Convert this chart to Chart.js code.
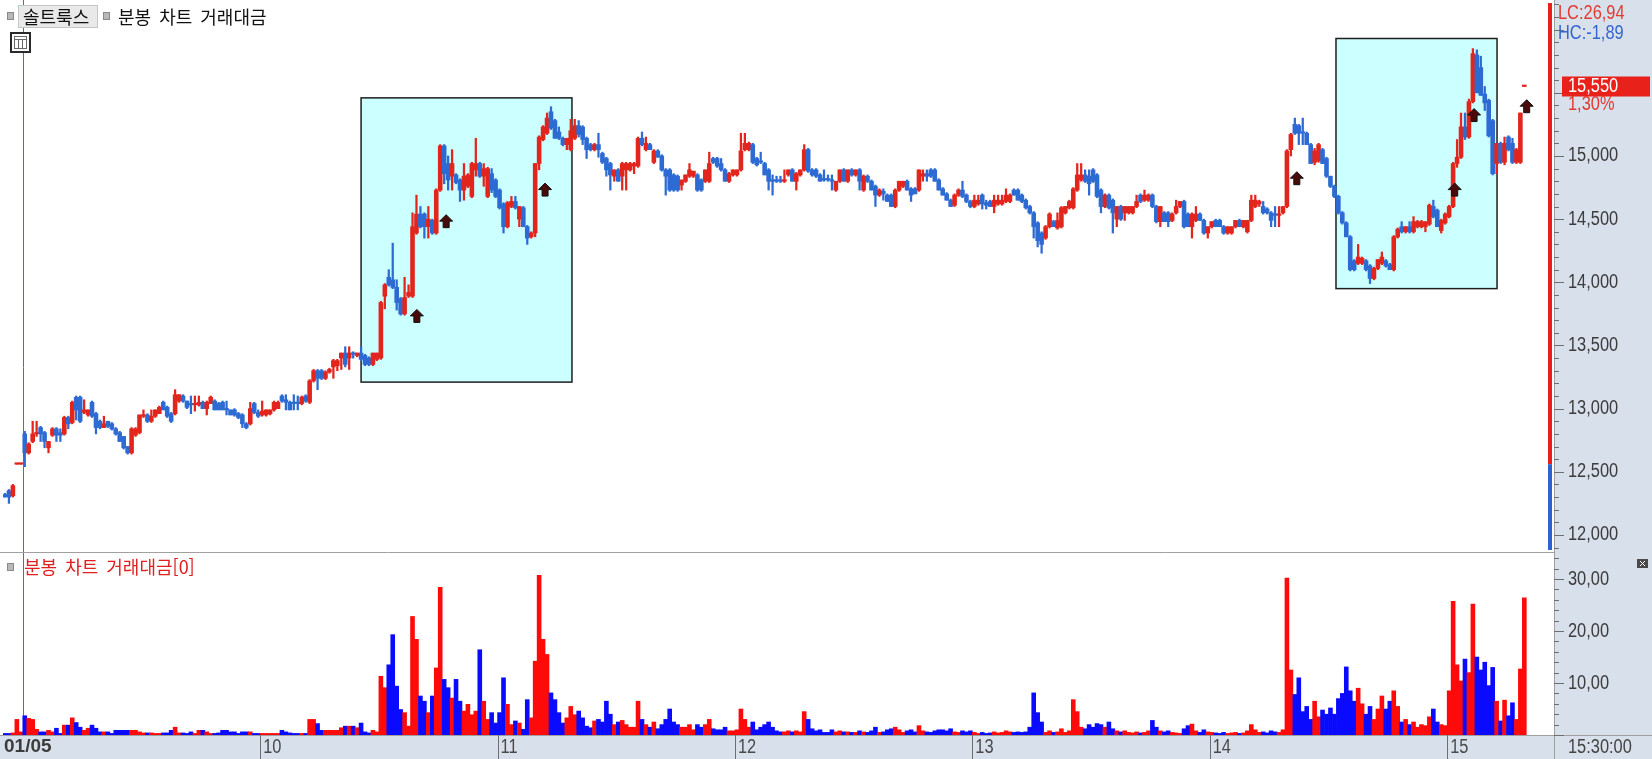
<!DOCTYPE html>
<html lang="ko">
<head>
<meta charset="utf-8">
<title>솔트룩스 분봉 차트 거래대금</title>
<script src="https://cdn.jsdelivr.net/npm/chart.js@4.4.1/dist/chart.umd.min.js"></script>
<style>
  html, body { margin: 0; padding: 0; background: #ffffff; }
  canvas { display: block; }
</style>
</head>
<body>
<canvas id="chart" width="1652" height="759"></canvas>
<script>
// ---- texts ----
const stockName = '솔트룩스';
const chartTitle = '분봉 차트 거래대금';
const volumeTitle = '분봉 차트 거래대금[0]';
const lcText = 'LC:26,94';
const hcText = 'HC:-1,89';
const lastChangeText = '1,30%';
const timeText = '15:30:00';

// ---- x axis: one slot per minute candle ----
const slotCount = 392;
const openSlot = 5;                       // 09:00 (red line)
const tickSlots = [0, 65, 125, 185, 245, 305, 365];
const tickLabels = ['01/05', '10', '11', '12', '13', '14', '15'];

// ---- y axes ----
const priceMin = 11865;
const priceMax = 16211;
const priceTicks = [12000, 12500, 13000, 13500, 14000, 14500, 15000];
const volumeMax = 35.2;
const volumeTicks = [10, 20, 30];
const lastPrice = 15550;
const prevClose = 12560;

// ---- candles [open, high, low, close, 거래대금] ----
const preMarket = [
  [12320,12330,12300,12300,0.3], [12350,12360,12250,12300,0.3], [12310,12400,12300,12390,0.4],
  [12560,12560,12560,12560,3.0], [12560,12560,12560,12560,0.6]
];
const min09 = [
  [12800,12820,12540,12650,3.7], [12650,12730,12640,12720,3.2], [12740,12900,12730,12800,3.0], [12800,12900,12780,12810,1.1],
  [12850,12860,12740,12800,0.6], [12810,12820,12690,12740,0.6], [12690,12740,12650,12740,0.9], [12790,12850,12780,12840,0.6],
  [12840,12850,12740,12790,1.3], [12810,12840,12740,12790,0.3], [12800,12940,12790,12930,1.9], [12930,12940,12840,12880,1.9],
  [12890,13060,12880,13050,3.3], [13090,13100,12910,12990,2.4], [13090,13100,12890,12900,1.5], [12970,13070,12960,12990,0.9],
  [12950,12990,12940,12990,1.3], [13050,13060,12930,12940,1.9], [12960,12970,12800,12850,1.3], [12900,12910,12840,12850,0.6],
  [12850,12940,12850,12880,0.6], [12900,12900,12850,12860,0.6], [12880,12890,12830,12840,0.3], [12840,12850,12790,12800,0.9],
  [12810,12820,12740,12740,0.9], [12780,12780,12680,12690,0.9], [12700,12700,12640,12650,0.9], [12650,12850,12640,12840,0.9],
  [12790,12850,12780,12840,0.9], [12810,12950,12800,12950,0.6], [12940,12990,12930,12950,0.4], [12950,12960,12890,12900,0.4],
  [12900,12990,12890,12940,0.4], [12940,12990,12930,12990,0.3], [12960,13020,12960,13010,0.3], [13050,13060,12990,12990,0.4],
  [13010,13020,12930,12940,0.4], [12960,12970,12890,12900,0.9], [12960,13150,12950,13110,1.5], [13060,13110,13050,13110,0.4],
  [13100,13110,13050,13060,0.4], [13060,13060,13000,13010,0.3], [13040,13100,12960,13030,0.6], [13030,13100,12980,13040,0.3],
  [13030,13100,13020,13050,0.9], [13050,13060,13000,13000,0.9], [13000,13060,12950,13050,0.6], [13040,13100,13040,13090,0.3],
  [13060,13070,12990,12990,0.3], [13040,13050,12990,12990,0.4], [13050,13060,12990,12990,0.9], [13000,13060,12950,12990,0.9],
  [12990,12990,12950,12950,0.6], [12990,13000,12940,12950,0.6], [12960,12970,12920,12930,0.3], [12950,12960,12850,12880,0.6],
  [12880,12890,12840,12850,0.6], [12880,13050,12870,13000,0.6], [13040,13050,12960,12970,0.3], [12970,12990,12930,12940,0.3]
];
const min10 = [
  [12950,13060,12940,12980,0.3], [12950,12990,12940,12990,0.3], [12960,12990,12950,12990,0.3], [12990,13060,12980,13050,0.3],
  [13000,13060,13000,13050,0.3], [13100,13110,13050,13060,0.9], [13070,13110,12990,13050,0.6], [13050,13060,12990,12990,0.4],
  [13050,13110,12990,13040,0.3], [13050,13100,12990,13040,0.3], [13040,13100,13030,13090,0.3], [13100,13110,13050,13060,0.3],
  [13050,13230,13040,13220,3.0], [13220,13310,13210,13300,3.0], [13300,13310,13150,13240,2.2], [13300,13310,13230,13240,0.9],
  [13240,13300,13230,13290,0.9], [13290,13320,13280,13310,0.9], [13330,13390,13240,13380,0.9], [13340,13390,13300,13380,0.9],
  [13400,13440,13310,13440,1.4], [13440,13490,13330,13350,1.7], [13400,13490,13310,13440,1.7], [13440,13450,13400,13430,1.7],
  [13420,13440,13410,13440,1.4], [13440,13490,13380,13390,2.3], [13420,13430,13340,13350,0.6], [13400,13410,13340,13350,0.4],
  [13350,13440,13340,13440,0.9], [13390,13440,13380,13440,0.6], [13400,13850,13390,13840,11.3], [13890,13990,13790,13980,9.1],
  [14040,14100,13970,13980,13.5], [14020,14310,13950,13960,19.3], [13960,14020,13780,13840,9.4], [13870,13880,13740,13750,4.9],
  [13750,14040,13740,13880,4.3], [13890,13980,13880,13920,1.7], [13890,14550,13880,14440,22.8], [14390,14690,14380,14540,18.4],
  [14540,14600,14430,14440,7.5], [14540,14550,14350,14440,6.5], [14440,14600,14350,14500,4.3], [14490,14500,14380,14390,7.5],
  [14390,14740,14380,14730,12.9], [14730,15090,14720,15080,28.4], [15080,15090,14780,14860,10.7], [14940,15000,14730,14810,9.1],
  [14840,15050,14730,14940,7.1], [14850,14860,14780,14790,10.7], [14810,14820,14640,14730,6.5], [14730,14940,14650,14840,4.6],
  [14760,14860,14750,14850,5.9], [14680,14950,14670,14940,3.9], [14890,15140,14840,14940,4.6], [14940,14950,14830,14840,16.4],
  [14840,14940,14760,14900,6.5], [14680,14910,14670,14900,3.0], [14860,14900,14710,14730,4.3], [14810,14820,14670,14680,2.3]
];
const min11 = [
  [14730,14740,14580,14590,4.3], [14620,14630,14390,14440,11.0], [14440,14640,14430,14630,5.9], [14600,14680,14590,14640,2.0],
  [14640,14680,14580,14590,2.7], [14500,14600,14440,14600,2.3], [14590,14600,14440,14440,1.1], [14440,14450,14300,14350,6.8],
  [14360,14400,14350,14390,3.3], [14390,14940,14360,14940,14.2], [14940,15160,14890,15150,30.7], [15130,15240,15120,15230,18.4],
  [15180,15340,15170,15300,15.5], [15350,15390,15210,15220,8.1], [15280,15290,15140,15140,6.8], [15190,15230,15130,15140,4.3],
  [15140,15150,15080,15090,2.3], [15090,15140,15050,15140,3.3], [15050,15290,15040,15200,5.5], [15140,15290,15130,15240,3.9],
  [15240,15280,15150,15170,4.6], [15230,15240,15090,15130,3.3], [15140,15150,14980,15050,1.7], [15090,15100,15040,15050,1.4],
  [15050,15100,15040,15090,2.7], [15090,15180,14990,15050,3.0], [15020,15030,14940,14950,2.5], [14980,14990,14840,14890,6.5],
  [14940,14950,14730,14850,4.0], [14840,14890,14800,14890,2.0], [14890,14900,14800,14800,2.5], [14840,14950,14730,14940,2.8],
  [14890,14950,14730,14940,2.0], [14890,14950,14880,14940,1.5], [14920,14950,14860,14940,1.5], [14920,15150,14910,15140,6.5],
  [15140,15190,15080,15090,3.0], [15050,15150,15040,15100,2.0], [15090,15100,15050,15050,1.5], [14950,15050,14940,15040,2.5],
  [15040,15050,14990,14990,1.2], [15000,15010,14880,14890,2.0], [14890,14900,14690,14840,3.0], [14890,14900,14720,14730,5.0],
  [14850,14860,14720,14730,2.5], [14840,14850,14720,14730,2.0], [14770,14810,14730,14810,1.5], [14800,14850,14790,14850,1.5],
  [14840,14940,14830,14890,2.0], [14840,14880,14830,14880,1.0], [14850,14860,14720,14730,2.0], [14810,14820,14720,14730,1.5],
  [14800,14890,14790,14890,2.0], [14800,15030,14790,14940,3.0], [14980,14990,14940,14950,1.2], [14980,14990,14910,14920,1.0],
  [14940,14980,14880,14890,1.0], [14890,14900,14800,14800,1.5], [14800,14870,14790,14860,0.8], [14850,14890,14840,14890,0.8]
];
const min12 = [
  [14850,14890,14840,14890,1.0], [14890,15180,14880,15040,5.0], [15050,15180,15040,15100,3.0], [15050,15110,15040,15100,1.5],
  [15090,15100,14940,14950,2.5], [14980,14990,14920,14930,1.0], [14960,15030,14940,14950,1.5], [14940,14950,14850,14850,2.0],
  [14890,14900,14730,14800,2.5], [14810,14850,14690,14800,1.5], [14810,14840,14790,14800,0.8], [14810,14840,14790,14800,0.6],
  [14800,14890,14790,14810,0.6], [14850,14890,14840,14890,0.8], [14890,14900,14800,14800,0.6], [14800,14870,14730,14860,0.8],
  [14850,14890,14840,14890,0.6], [14890,15090,14880,15050,4.5], [15050,15060,14870,14880,3.0], [14890,14900,14840,14850,1.2],
  [14890,14900,14830,14840,0.8], [14850,14860,14800,14800,1.0], [14820,14890,14800,14810,0.5], [14820,14850,14800,14810,0.5],
  [14810,14850,14730,14800,1.0], [14730,14800,14720,14800,0.6], [14800,14890,14790,14890,0.8], [14890,14900,14800,14800,0.6],
  [14800,14890,14790,14890,0.6], [14890,14900,14840,14850,0.5], [14850,14890,14840,14890,0.5], [14890,14900,14730,14800,0.8],
  [14730,14850,14720,14840,0.6], [14840,14850,14790,14800,0.5], [14800,14810,14730,14730,0.8], [14760,14770,14600,14690,1.5],
  [14690,14740,14680,14730,0.5], [14720,14740,14650,14700,0.6], [14690,14700,14640,14640,1.0], [14690,14700,14600,14600,1.2],
  [14600,14740,14590,14730,1.5], [14730,14800,14720,14800,1.0], [14760,14800,14750,14800,0.5], [14800,14810,14730,14730,0.8],
  [14740,14750,14640,14690,1.0], [14740,14750,14700,14700,0.6], [14730,14890,14720,14890,1.8], [14840,14890,14800,14860,0.8],
  [14860,14890,14800,14840,0.6], [14890,14900,14830,14840,0.5], [14890,14900,14800,14800,0.8], [14810,14820,14730,14730,1.0],
  [14740,14750,14690,14690,1.0], [14700,14710,14650,14650,0.8], [14650,14660,14600,14600,1.2], [14610,14700,14600,14690,0.6],
  [14690,14740,14680,14730,0.5], [14730,14800,14670,14680,0.8], [14690,14700,14630,14640,0.6], [14640,14650,14590,14600,0.8]
];
const min13 = [
  [14600,14690,14590,14650,0.5], [14620,14690,14610,14650,0.3], [14690,14700,14580,14620,0.5], [14630,14650,14580,14610,0.3],
  [14640,14650,14600,14600,0.4], [14600,14690,14550,14650,0.6], [14620,14690,14610,14650,0.4], [14620,14690,14610,14650,0.5],
  [14640,14740,14630,14690,0.8], [14640,14700,14630,14690,0.6], [14730,14740,14690,14690,0.5], [14730,14740,14650,14650,0.6],
  [14690,14700,14630,14640,0.5], [14650,14660,14580,14590,0.6], [14600,14610,14540,14550,1.5], [14550,14560,14350,14440,8.1],
  [14470,14480,14280,14330,4.3], [14390,14400,14230,14300,2.5], [14350,14450,14340,14440,0.5], [14440,14550,14430,14540,0.8],
  [14480,14490,14440,14440,0.5], [14430,14550,14420,14490,0.6], [14440,14600,14430,14590,1.2], [14550,14600,14540,14600,0.5],
  [14590,14650,14580,14640,0.8], [14590,14750,14580,14740,6.8], [14730,14940,14720,14850,4.5], [14810,14940,14800,14850,1.5],
  [14850,14890,14790,14800,1.2], [14840,14890,14690,14780,2.0], [14890,14900,14790,14800,1.5], [14850,14860,14670,14680,2.2],
  [14730,14740,14550,14600,2.0], [14600,14700,14590,14690,1.5], [14690,14700,14580,14590,2.5], [14650,14660,14390,14550,1.2],
  [14500,14600,14440,14600,0.8], [14600,14610,14490,14500,0.6], [14550,14600,14490,14600,0.8], [14550,14600,14540,14600,0.5],
  [14550,14600,14540,14600,0.4], [14600,14690,14590,14640,0.6], [14690,14700,14630,14640,0.4], [14650,14730,14640,14690,0.5],
  [14650,14700,14640,14690,0.8], [14690,14700,14590,14600,2.8], [14600,14610,14470,14480,1.5], [14480,14600,14440,14600,0.8],
  [14550,14560,14480,14480,0.6], [14550,14560,14440,14480,0.8], [14490,14550,14480,14540,0.5], [14550,14650,14540,14600,0.4],
  [14600,14640,14590,14640,0.3], [14640,14650,14430,14440,1.2], [14540,14550,14440,14440,1.8], [14440,14550,14350,14540,2.1],
  [14490,14600,14480,14540,0.8], [14540,14550,14490,14490,0.5], [14490,14500,14380,14390,1.0], [14390,14440,14350,14440,0.6]
];
const min14 = [
  [14440,14480,14430,14480,0.5], [14490,14500,14440,14440,0.4], [14490,14500,14440,14440,0.3], [14440,14450,14380,14390,0.5],
  [14390,14440,14380,14440,0.3], [14390,14440,14380,14440,0.4], [14440,14490,14430,14490,0.5], [14490,14500,14440,14440,0.3],
  [14440,14490,14430,14490,0.4], [14400,14490,14390,14490,0.8], [14490,14690,14480,14650,2.0], [14600,14690,14590,14650,1.0],
  [14620,14650,14600,14640,0.5], [14600,14640,14540,14550,0.6], [14580,14590,14540,14550,0.4], [14550,14560,14440,14490,0.8],
  [14540,14600,14440,14530,0.6], [14530,14600,14440,14540,0.5], [14550,14600,14540,14600,1.0], [14600,15050,14590,15040,30.2],
  [15050,15180,15000,15170,12.5], [15250,15300,15170,15180,7.8], [15240,15250,15090,15180,11.0], [15190,15300,15090,15180,4.5],
  [15180,15190,15090,15090,5.5], [15090,15100,14940,14940,3.0], [14950,15060,14930,15040,6.5], [14960,15100,14950,15090,3.5],
  [15050,15060,14940,14940,4.8], [14980,14990,14830,14840,4.0], [14840,14840,14750,14760,5.2], [14760,14770,14670,14680,4.0],
  [14680,14690,14540,14550,7.0], [14550,14560,14460,14470,8.0], [14470,14480,14360,14360,13.1], [14360,14370,14090,14100,8.5],
  [14170,14180,14090,14100,6.5], [14150,14300,14140,14200,9.0], [14150,14200,14140,14190,6.0], [14170,14180,14090,14100,4.0],
  [14130,14140,13990,14030,5.5], [14030,14120,14020,14110,3.0], [14110,14180,14100,14180,5.0], [14150,14240,14140,14200,7.5],
  [14170,14180,14120,14130,5.0], [14140,14150,14100,14100,6.5], [14100,14370,14090,14360,8.5], [14360,14430,14350,14420,5.5],
  [14440,14480,14390,14400,2.5], [14400,14440,14390,14440,3.0], [14440,14480,14390,14400,2.0], [14400,14520,14390,14480,2.5],
  [14440,14490,14430,14480,1.5], [14440,14490,14430,14480,2.0], [14440,14480,14400,14480,1.8], [14460,14620,14450,14610,3.5],
  [14600,14650,14510,14520,5.0], [14570,14580,14440,14440,2.5], [14410,14500,14390,14490,2.0], [14470,14550,14460,14540,1.8]
];
const min15 = [
  [14520,14610,14510,14600,8.5], [14600,14950,14590,14940,25.7], [14940,15130,14910,14990,13.5], [14990,15340,14980,15230,10.4],
  [15230,15340,15130,15150,14.6], [15150,15450,15140,15430,12.0], [15430,15850,15420,15810,25.2], [15800,15840,15500,15500,15.0],
  [15700,15790,15480,15480,12.5], [15490,15550,15360,15420,14.0], [15440,15450,15150,15160,9.5], [15280,15290,14850,14860,13.0],
  [14940,15100,14860,15100,6.5], [15100,15110,14940,14950,2.7], [14950,15150,14930,15100,6.7], [15150,15160,15040,15050,3.7],
  [15100,15140,14940,14950,6.2], [14950,15060,14940,15050,3.0], [14950,15340,14940,15340,12.7], [15550,15550,15550,15550,26.4]
];

// ---- drawn boxes [left slot edge, right slot edge, top price, bottom price] ----
const boxes = [
  [90.5, 143.8, 15460, 13210],
  [336.9, 377.6, 15930, 13950]
];
// ---- signal arrows [slot, price] ----
const signals = [
  [104.1, 13730], [111.5, 14480], [136.5, 14730], [326.5, 14820],
  [366.4, 14730], [371.3, 15320], [384.6, 15390]
];

// colours and fonts
const candleUp = '#e2261d';
const candleDown = '#2d6bd3';
const volUp = '#ff0a0a';
const volDown = '#0a0aff';
const axisBg = '#d8e0ec';
const numFont = "20px 'Liberation Sans', Arial, sans-serif";
const krFont = "18px 'Noto Sans CJK KR', sans-serif";

const candles = [].concat(preMarket, min09, min10, min11, min12, min13, min14, min15);
const slotLabels = [];
for (let i = 0; i < slotCount; i++) {
  const k = tickSlots.indexOf(i);
  slotLabels.push(k >= 0 ? tickLabels[k] : '');
}
const isUp = c => c[3] >= c[0];
const wickData = candles.map(c => [c[2], c[1]]);
const bodyData = candles.map(c => [c[0], c[3]]);
const volumeData = candles.map(c => c[4]);
const candleColors = candles.map(c => isUp(c) ? candleUp : candleDown);
const volumeColors = candles.map(c => isUp(c) ? volUp : volDown);

function fmtPrice(v) {
  return String(v).replace(/\B(?=(\d{3})+(?!\d))/g, ',');
}

// pixel x for a (possibly fractional) slot centre
function slotX(chart, s) {
  const x = chart.scales.x;
  const p0 = x.getPixelForValue(0);
  const w = x.getPixelForValue(1) - p0;
  return p0 + s * w;
}

function marker(ctx, x, y) {
  ctx.fillStyle = '#b8b8b8';
  ctx.fillRect(x, y, 7, 8);
  ctx.strokeStyle = '#8a8a8a';
  ctx.lineWidth = 1;
  ctx.strokeRect(x + 0.5, y + 0.5, 6, 7);
}

// narrow number text like the HTS font
function narrowText(ctx, text, x, y, color) {
  ctx.save();
  ctx.translate(x, y);
  ctx.scale(0.82, 1);
  ctx.font = numFont;
  ctx.textBaseline = 'middle';
  ctx.textAlign = 'left';
  ctx.fillStyle = color;
  ctx.fillText(text, 0, 0);
  ctx.restore();
}

const decorPlugin = {
  id: 'decor',
  beforeDraw(chart) {
    const ctx = chart.ctx, a = chart.chartArea;
    ctx.save();
    ctx.fillStyle = axisBg;
    ctx.fillRect(0, 0, chart.width, chart.height);
    ctx.fillStyle = '#ffffff';
    ctx.fillRect(0, 0, a.right, a.bottom);
    ctx.restore();
  },
  beforeDatasetsDraw(chart) {
    const ctx = chart.ctx, a = chart.chartArea, y = chart.scales.y;
    ctx.save();
    // cyan range boxes
    boxes.forEach(b => {
      const x1 = slotX(chart, b[0] - 0.5), x2 = slotX(chart, b[1] - 0.5);
      const y1 = y.getPixelForValue(b[2]), y2 = y.getPixelForValue(b[3]);
      ctx.fillStyle = '#ccffff';
      ctx.fillRect(x1, y1, x2 - x1, y2 - y1);
      ctx.strokeStyle = '#1e1e1e';
      ctx.lineWidth = 1.5;
      ctx.strokeRect(x1, y1, x2 - x1, y2 - y1);
    });
    // 09:00 line
    const xo = Math.round(slotX(chart, openSlot - 0.5)) + 0.5;
    ctx.strokeStyle = '#e03a3a';
    ctx.lineWidth = 1;
    ctx.beginPath();
    ctx.moveTo(xo, 0);
    ctx.lineTo(xo, a.bottom);
    ctx.stroke();
    ctx.restore();
  },
  afterDatasetsDraw(chart) {
    const ctx = chart.ctx, a = chart.chartArea, y = chart.scales.y, yv = chart.scales.yv;
    ctx.save();
    // signal arrows
    signals.forEach(s => {
      const cx = slotX(chart, s[0]), cy = y.getPixelForValue(s[1]);
      ctx.beginPath();
      ctx.moveTo(cx, cy - 7);
      ctx.lineTo(cx + 6.5, cy - 0.5);
      ctx.lineTo(cx + 3, cy - 0.5);
      ctx.lineTo(cx + 3, cy + 6);
      ctx.lineTo(cx - 3, cy + 6);
      ctx.lineTo(cx - 3, cy - 0.5);
      ctx.lineTo(cx - 6.5, cy - 0.5);
      ctx.closePath();
      ctx.fillStyle = '#4a0a0a';
      ctx.fill();
      ctx.strokeStyle = '#111111';
      ctx.lineWidth = 1;
      ctx.stroke();
    });
    // red / blue bar on the right edge of the price panel
    const yMid = y.getPixelForValue(prevClose);
    ctx.fillStyle = '#e8201c';
    ctx.fillRect(a.right - 6, y.top, 4, yMid - y.top);
    ctx.fillStyle = '#2a62d0';
    ctx.fillRect(a.right - 6, yMid, 4, y.bottom - yMid - 2);
    // panel separator, x axis line, y axis line
    ctx.strokeStyle = '#a0a0a0';
    ctx.lineWidth = 1;
    ctx.beginPath();
    ctx.moveTo(0, Math.round(yv.top) + 0.5);
    ctx.lineTo(a.right, Math.round(yv.top) + 0.5);
    ctx.moveTo(0, Math.round(a.bottom) + 0.5);
    ctx.lineTo(chart.width, Math.round(a.bottom) + 0.5);
    ctx.moveTo(Math.round(a.right) + 0.5, 0);
    ctx.lineTo(Math.round(a.right) + 0.5, chart.height);
    ctx.stroke();
    // titles
    ctx.textBaseline = 'middle';
    ctx.font = krFont;
    ctx.wordSpacing = '4px';
    marker(ctx, 7, 12);
    ctx.fillStyle = '#e9e9e9';
    ctx.fillRect(18, 5, 80, 23);
    ctx.strokeStyle = '#c6c6c6';
    ctx.strokeRect(18.5, 5.5, 79, 22);
    ctx.fillStyle = '#111111';
    ctx.fillText(stockName, 23, 17);
    marker(ctx, 103, 12);
    ctx.fillStyle = '#111111';
    ctx.fillText(chartTitle, 118, 17);
    // calendar icon
    ctx.fillStyle = '#ffffff';
    ctx.fillRect(11, 33, 19, 19);
    ctx.strokeStyle = '#2a2a2a';
    ctx.lineWidth = 2;
    ctx.strokeRect(11, 33, 19, 19);
    ctx.lineWidth = 1;
    ctx.strokeStyle = '#6a6a6a';
    ctx.strokeRect(14.5, 36.5, 12, 12);
    ctx.beginPath();
    ctx.moveTo(14.5, 39.5); ctx.lineTo(26.5, 39.5);
    ctx.moveTo(18.5, 39.5); ctx.lineTo(18.5, 48.5);
    ctx.moveTo(22.5, 39.5); ctx.lineTo(22.5, 48.5);
    ctx.stroke();
    // volume panel title
    marker(ctx, 7, Math.round(yv.top) + 11);
    ctx.fillStyle = '#e02020';
    ctx.fillText(volumeTitle, 24, yv.top + 15);
    ctx.restore();
  },
  afterDraw(chart) {
    const ctx = chart.ctx, a = chart.chartArea, x = chart.scales.x, y = chart.scales.y, yv = chart.scales.yv;
    ctx.save();
    // tick marks of both value axes
    ctx.strokeStyle = '#6e6e6e';
    ctx.lineWidth = 1;
    ctx.beginPath();
    y.ticks.forEach(t => {
      if (t.value % 100 !== 0) return;
      const py = Math.round(y.getPixelForValue(t.value)) + 0.5;
      const len = t.value % 500 === 0 ? 10 : 5;
      ctx.moveTo(y.left, py);
      ctx.lineTo(y.left + len, py);
    });
    yv.ticks.forEach(t => {
      const py = Math.round(yv.getPixelForValue(t.value)) + 0.5;
      const len = t.value % 10 === 0 ? 10 : 5;
      ctx.moveTo(yv.left, py);
      ctx.lineTo(yv.left + len, py);
    });
    // hour separators in the time row
    tickSlots.forEach(s => {
      if (s === 0) return;
      const px = Math.round(slotX(chart, s - 0.5)) + 0.5;
      ctx.moveTo(px, a.bottom);
      ctx.lineTo(px, chart.height);
    });
    ctx.stroke();

    // value axis labels
    priceTicks.forEach(v => narrowText(ctx, fmtPrice(v), y.left + 14, y.getPixelForValue(v), '#3c3c3c'));
    volumeTicks.forEach(v => narrowText(ctx, v.toFixed(2).replace('.', ','), yv.left + 14, yv.getPixelForValue(v), '#3c3c3c'));
    // time labels
    const rowY = a.bottom + 12;
    tickSlots.forEach((s, i) => {
      if (i === 0) {
        ctx.font = "bold 19px 'Liberation Sans', Arial, sans-serif";
        ctx.fillStyle = '#3c3c3c';
        ctx.textBaseline = 'middle';
        ctx.fillText(tickLabels[i], 4, rowY);
      } else {
        narrowText(ctx, tickLabels[i], x.getPixelForValue(s) + 1, rowY, '#4a4a4a');
      }
    });
    narrowText(ctx, timeText, a.right + 14, rowY, '#444444');
    // LC / HC
    narrowText(ctx, lcText, a.right + 4, 13, '#e33a30');
    narrowText(ctx, hcText, a.right + 4, 33, '#3566cf');
    // current price box
    const py = y.getPixelForValue(lastPrice);
    ctx.fillStyle = '#e8211b';
    ctx.fillRect(a.right + 8, py - 10, 88, 20);
    narrowText(ctx, fmtPrice(lastPrice), a.right + 14, py, '#ffffff');
    narrowText(ctx, lastChangeText, a.right + 14, py + 18, '#e33a30');
    // close icon of the volume panel
    ctx.fillStyle = '#4a4a4a';
    ctx.fillRect(1637, yv.top + 7, 11, 9);
    ctx.strokeStyle = '#ffffff';
    ctx.beginPath();
    ctx.moveTo(1640, yv.top + 9); ctx.lineTo(1645, yv.top + 14);
    ctx.moveTo(1645, yv.top + 9); ctx.lineTo(1640, yv.top + 14);
    ctx.stroke();
    ctx.restore();
  }
};

function noPadding(s) {
  s.paddingTop = 0;
  s.paddingBottom = 0;
  s.paddingLeft = 0;
  s.paddingRight = 0;
}

new Chart(document.getElementById('chart'), {
  data: {
    labels: slotLabels,
    datasets: [
      {
        type: 'bar', label: 'wick', data: wickData, yAxisID: 'y',
        backgroundColor: candleColors, grouped: false, maxBarThickness: 1.6,
        categoryPercentage: 1, barPercentage: 1, borderWidth: 0
      },
      {
        type: 'bar', label: 'body', data: bodyData, yAxisID: 'y',
        backgroundColor: candleColors, grouped: false, minBarLength: 1.5,
        categoryPercentage: 1, barPercentage: 1, borderWidth: 0
      },
      {
        type: 'bar', label: '거래대금', data: volumeData, yAxisID: 'yv',
        backgroundColor: volumeColors, grouped: false,
        categoryPercentage: 1, barPercentage: 1, borderWidth: 0
      }
    ]
  },
  options: {
    responsive: false,
    animation: false,
    events: [],
    devicePixelRatio: 1,
    layout: { padding: { left: 3, top: 3, right: 0, bottom: 0 } },
    plugins: { legend: { display: false }, tooltip: { enabled: false } },
    scales: {
      x: {
        type: 'category',
        offset: true,
        grid: { display: false, drawTicks: false },
        border: { display: false },
        ticks: { display: false, autoSkip: false },
        afterFit: s => { s.height = 24; noPadding(s); }
      },
      y: {
        type: 'linear', position: 'right', stack: 'panels', stackWeight: 3,
        min: priceMin, max: priceMax,
        grid: { display: false, drawTicks: false },
        border: { display: false },
        ticks: { display: false, stepSize: 100, includeBounds: false, autoSkip: false },
        afterFit: s => { s.width = 98; noPadding(s); }
      },
      yv: {
        type: 'linear', position: 'right', stack: 'panels', stackWeight: 1,
        min: 0, max: volumeMax,
        grid: { display: false, drawTicks: false },
        border: { display: false },
        ticks: { display: false, stepSize: 2, includeBounds: false, autoSkip: false },
        afterFit: s => { s.width = 98; noPadding(s); }
      }
    }
  },
  plugins: [decorPlugin]
});
</script>
</body>
</html>
